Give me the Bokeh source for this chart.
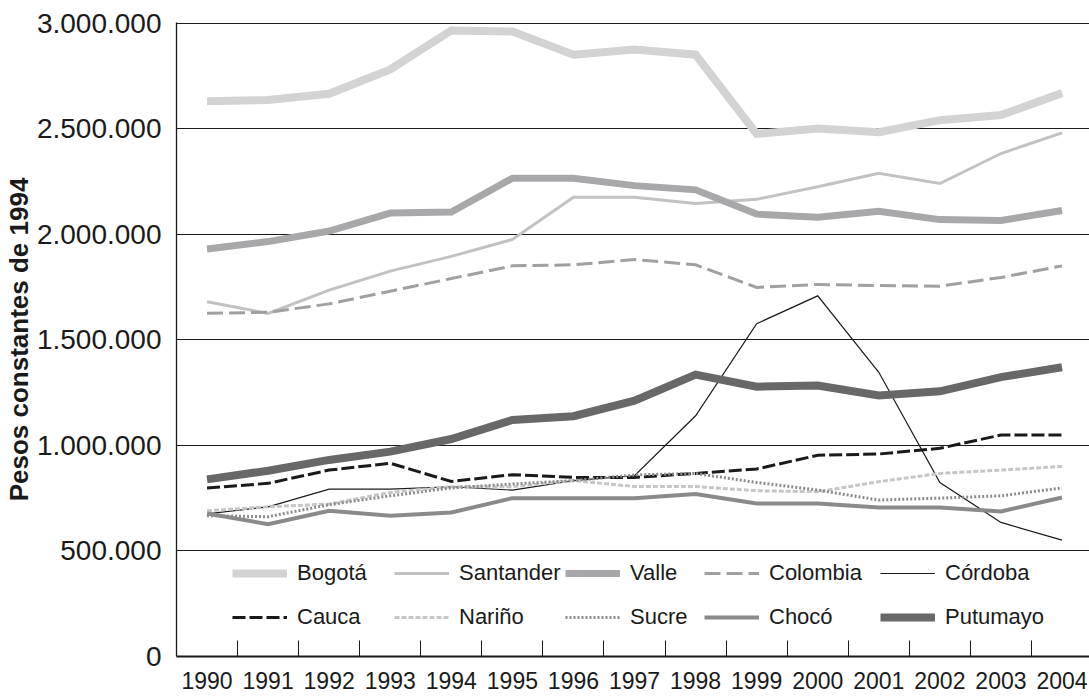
from bokeh.plotting import figure
from bokeh.models import Range1d, FixedTicker, Legend, LegendItem
from bokeh.embed import file_html
from bokeh.resources import INLINE

# ---------------- data ----------------
years = ["1990", "1991", "1992", "1993", "1994", "1995", "1996", "1997",
         "1998", "1999", "2000", "2001", "2002", "2003", "2004"]

y_ticks = [0, 500000, 1000000, 1500000, 2000000, 2500000, 3000000]
y_tick_labels = ["0", "500.000", "1.000.000", "1.500.000", "2.000.000",
                 "2.500.000", "3.000.000"]

bogota = [2630000, 2635000, 2665000, 2780000, 2965000, 2960000, 2850000, 2875000,
          2850000, 2475000, 2500000, 2483000, 2540000, 2564000, 2668000]
santander = [1680000, 1625000, 1735000, 1825000, 1895000, 1975000, 2175000, 2175000,
             2145000, 2165000, 2225000, 2288000, 2240000, 2382000, 2480000]
valle = [1930000, 1965000, 2015000, 2100000, 2105000, 2265000, 2265000, 2230000,
         2210000, 2095000, 2080000, 2108000, 2069000, 2065000, 2112000]
colombia = [1625000, 1630000, 1670000, 1730000, 1790000, 1850000, 1855000, 1880000,
            1855000, 1748000, 1762000, 1757000, 1754000, 1795000, 1850000]
cordoba = [675000, 709000, 793000, 793000, 804000, 788000, 833000, 856000,
           1140000, 1576000, 1708000, 1346000, 824000, 635000, 551000]
cauca = [798000, 820000, 883000, 915000, 829000, 861000, 848000, 848000,
         867000, 888000, 953000, 959000, 986000, 1049000, 1049000]
narino = [690000, 709000, 722000, 777000, 804000, 804000, 833000, 805000,
          805000, 785000, 780000, 828000, 867000, 883000, 900000]
sucre = [667000, 662000, 719000, 761000, 798000, 817000, 833000, 860000,
         867000, 824000, 788000, 741000, 750000, 761000, 798000]
choco = [677000, 627000, 690000, 667000, 682000, 750000, 750000, 750000,
         769000, 725000, 725000, 706000, 706000, 687000, 753000]
putumayo = [839000, 880000, 931000, 970000, 1030000, 1120000, 1138000, 1212000,
            1335000, 1278000, 1283000, 1236000, 1256000, 1323000, 1370000]

series = [
    ("Bogotá", bogota), ("Santander", santander), ("Valle", valle),
    ("Colombia", colombia), ("Córdoba", cordoba), ("Cauca", cauca),
    ("Nariño", narino), ("Sucre", sucre), ("Chocó", choco), ("Putumayo", putumayo),
]

# ---------------- styles ----------------
styles = {
    "Bogotá":    dict(line_color="#d3d3d3", line_width=8),
    "Santander": dict(line_color="#c2c2c2", line_width=3),
    "Valle":     dict(line_color="#a8a8aa", line_width=7),
    "Colombia":  dict(line_color="#a0a0a0", line_width=3, line_dash="16 6"),
    "Córdoba":   dict(line_color="#1a1a1a", line_width=1.2),
    "Cauca":     dict(line_color="#1a1a1a", line_width=3, line_dash="13 4"),
    "Nariño":    dict(line_color="#c6c6c6", line_width=3, line_dash="5 2"),
    "Sucre":     dict(line_color="#8c8c8c", line_width=3, line_dash="2 2"),
    "Chocó":     dict(line_color="#8a8a8a", line_width=4),
    "Putumayo":  dict(line_color="#686868", line_width=8),
}

FONT = "Liberation Sans"

xs = list(range(len(years)))

p = figure(width=1089, height=696, output_backend="svg", toolbar_location=None,
           x_range=Range1d(-0.5, 14.45), y_range=Range1d(0, 3002500),
           min_border_left=176, min_border_right=0, min_border_top=22,
           min_border_bottom=40)
p.outline_line_color = None
p.background_fill_color = "white"
p.border_fill_color = "white"

renderers = {}
for name, vals in series:
    r = p.line(xs, vals, line_join="miter", line_cap="butt", **styles[name])
    renderers[name] = r

# x axis
xa = p.xaxis[0]
xa.ticker = FixedTicker(ticks=xs, minor_ticks=[i + 0.5 for i in xs[:-1]])
xa.major_label_overrides = {i: y for i, y in zip(xs, years)}
xa.major_tick_line_color = None
xa.minor_tick_line_color = "#1a1a1a"
xa.minor_tick_in = 16
xa.minor_tick_out = 0
xa.axis_line_color = "#1a1a1a"
xa.axis_line_width = 2
xa.major_label_text_font = FONT
xa.major_label_text_font_size = "23px"
xa.major_label_text_color = "#1a1a1a"
xa.major_label_standoff = 9

# y axis
ya = p.yaxis[0]
ya.ticker = FixedTicker(ticks=y_ticks)
ya.major_label_overrides = {t: l for t, l in zip(y_ticks, y_tick_labels)}
ya.major_tick_line_color = None
ya.minor_tick_line_color = None
ya.axis_line_color = "#1a1a1a"
ya.axis_line_width = 1.3
ya.major_label_text_font = FONT
ya.major_label_text_font_size = "28px"
ya.major_label_text_color = "#1a1a1a"
ya.major_label_standoff = 9
ya.axis_label = "Pesos constantes de 1994"
ya.axis_label_text_font = FONT
ya.axis_label_text_font_style = "bold"
ya.axis_label_text_font_size = "26px"
ya.axis_label_text_color = "#1a1a1a"
ya.axis_label_standoff = 0

p.xgrid.grid_line_color = None
p.ygrid.ticker = FixedTicker(ticks=y_ticks[1:])
p.ygrid.grid_line_color = "#1a1a1a"
p.ygrid.grid_line_width = 1.2

# legend: five columns of two entries
names = [n for n, _ in series]
col_x = [56, 218, 389, 528, 704]
for c in range(5):
    items = [LegendItem(label=names[c], renderers=[renderers[names[c]]]),
             LegendItem(label=names[c + 5], renderers=[renderers[names[c + 5]]])]
    leg = Legend(items=items, location=(col_x[c], 24), orientation="vertical",
                 padding=0, margin=0, spacing=14, glyph_width=55, glyph_height=30,
                 label_height=30, label_standoff=10,
                 label_text_font=FONT, label_text_font_size="22px",
                 label_text_color="#1a1a1a",
                 border_line_alpha=0, background_fill_alpha=0)
    p.add_layout(leg)

open("out.html", "w").write(file_html(p, INLINE))
